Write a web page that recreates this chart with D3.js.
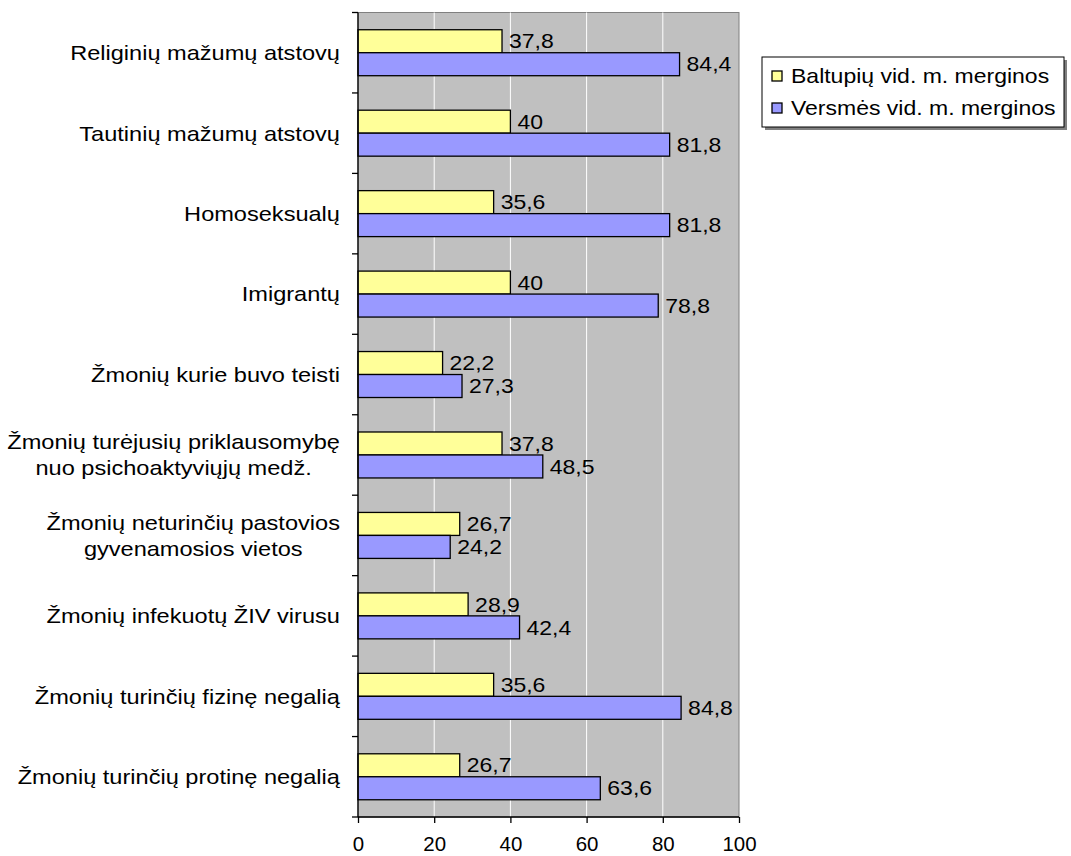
<!DOCTYPE html>
<html><head><meta charset="utf-8">
<script src="https://cdn.jsdelivr.net/npm/d3@7"></script>
<style>body{margin:0;background:#fff}svg{display:block}text{font-family:"Liberation Sans",Arial,sans-serif}</style>
</head><body><svg id="c" width="1071" height="856"></svg>
<script>
const categories = [
  ["Religinių mažumų atstovų"],
  ["Tautinių mažumų atstovų"],
  ["Homoseksualų"],
  ["Imigrantų"],
  ["Žmonių kurie buvo teisti"],
  ["Žmonių turėjusių priklausomybę","nuo psichoaktyviųjų medž."],
  ["Žmonių neturinčių pastovios","gyvenamosios vietos"],
  ["Žmonių infekuotų ŽIV virusu"],
  ["Žmonių turinčių fizinę negalią"],
  ["Žmonių turinčių protinę negalią"]
];
const seriesNames = ["Baltupių vid. m. merginos","Versmės vid. m. merginos"];
const baltupiai = [37.8,40,35.6,40,22.2,37.8,26.7,28.9,35.6,26.7];
const versmes = [84.4,81.8,81.8,78.8,27.3,48.5,24.2,42.4,84.8,63.6];
const xTicks = [0,20,40,60,80,100];
const colors = ["#FFFF99","#9999FF"];

const FS=20, SX=1.15;
const svg = d3.select("#c");
const L=358, R=739, T=12.5, B=817;
const x = d3.scaleLinear().domain([0,100]).range([L,R]);
const y = d3.scaleBand().domain(d3.range(categories.length)).range([T,B]);
const bw = y.bandwidth();
const grp = bw/1.75;
const sub = d3.scaleBand().domain([0,1]).range([(bw-grp)/2,(bw+grp)/2]);

function place(sel,px,py){ // position text with horizontal stretch
  sel.attr("transform",(d,i)=>`translate(${px(d,i)},${py(d,i)}) scale(${SX},1)`);
}

svg.append("rect").attr("x",L).attr("y",T).attr("width",R-L).attr("height",B-T).attr("fill","#C0C0C0").attr("stroke","#808080").attr("stroke-width",1);
svg.append("g").selectAll("line").data(xTicks.slice(1,-1)).join("line")
  .attr("x1",d=>x(d)).attr("x2",d=>x(d)).attr("y1",T).attr("y2",B).attr("stroke","#fff").attr("stroke-width",1);

const series=[baltupiai,versmes];
series.forEach((vals,si)=>{
  const g=svg.append("g");
  g.selectAll("rect").data(vals).join("rect")
    .attr("x",x(0)).attr("y",(d,i)=>y(i)+sub(si)).attr("width",d=>x(d)-x(0)).attr("height",sub.bandwidth())
    .attr("fill",colors[si]).attr("stroke","#000").attr("stroke-width",1.3);
  g.selectAll("text").data(vals).join("text")
    .attr("dy","0.36em").attr("font-size",FS).attr("fill","#000").text(d=>String(d).replace(".",","))
    .call(place,d=>x(d)+7,(d,i)=>y(i)+sub(si)+sub.bandwidth()/2);
});

// axes
const ax = svg.append("g").attr("transform",`translate(0,${B})`).call(d3.axisBottom(x).tickValues(xTicks).tickSize(6).tickPadding(14).tickFormat(d3.format("d")));
ax.selectAll("text").attr("font-size",19.5).attr("fill","#000").style("font-family","Liberation Sans, Arial").attr("transform","scale(1.05,1)");
ax.selectAll("line,path").attr("stroke","#000").attr("stroke-width",1.3);
ax.select(".domain").attr("d",`M${L},0H${R}`);

const ay = svg.append("g");
ay.append("line").attr("x1",L).attr("x2",L).attr("y1",T).attr("y2",B).attr("stroke","#000").attr("stroke-width",1.3);
ay.selectAll("line.t").data(d3.range(categories.length+1)).join("line").attr("class","t")
  .attr("x1",L-6).attr("x2",L).attr("y1",i=>T+i*bw).attr("y2",i=>T+i*bw).attr("stroke","#000").attr("stroke-width",1.3);
const lh=26;
ay.selectAll("text").data(categories).join("text")
  .attr("text-anchor","middle").attr("font-size",20.5).attr("fill","#000")
  .each(function(lines){
    const t=d3.select(this);
    lines.forEach((s,k)=>{
      t.append("tspan").attr("x",0).attr("y",(k-(lines.length-1)/2)*lh).attr("dy","0.36em").text(s);
    });
  })
  .each(function(lines,i){
    const t=d3.select(this);
    const w=d3.max(t.selectAll("tspan").nodes(),n=>n.getComputedTextLength())*SX;
    t.attr("transform",`translate(${L-18-w/2},${y(i)+bw/2}) scale(${SX},1)`);
  });

// legend
const lg=svg.append("g");
lg.append("rect").attr("x",765).attr("y",60).attr("width",302).attr("height",70).attr("fill","#808080");
lg.append("rect").attr("x",762).attr("y",57).attr("width",302).attr("height",70).attr("fill","#fff").attr("stroke","#000").attr("stroke-width",1);
lg.selectAll("rect.sw").data(seriesNames).join("rect").attr("class","sw")
  .attr("x",772).attr("y",(d,i)=>76+i*32-5).attr("width",10).attr("height",10)
  .attr("fill",(d,i)=>colors[i]).attr("stroke","#000").attr("stroke-width",1.3);
lg.selectAll("text").data(seriesNames).join("text")
  .attr("dy","0.36em").attr("font-size",FS).attr("fill","#000").text(d=>d)
  .call(place,()=>791,(d,i)=>76+i*32);
</script></body></html>
